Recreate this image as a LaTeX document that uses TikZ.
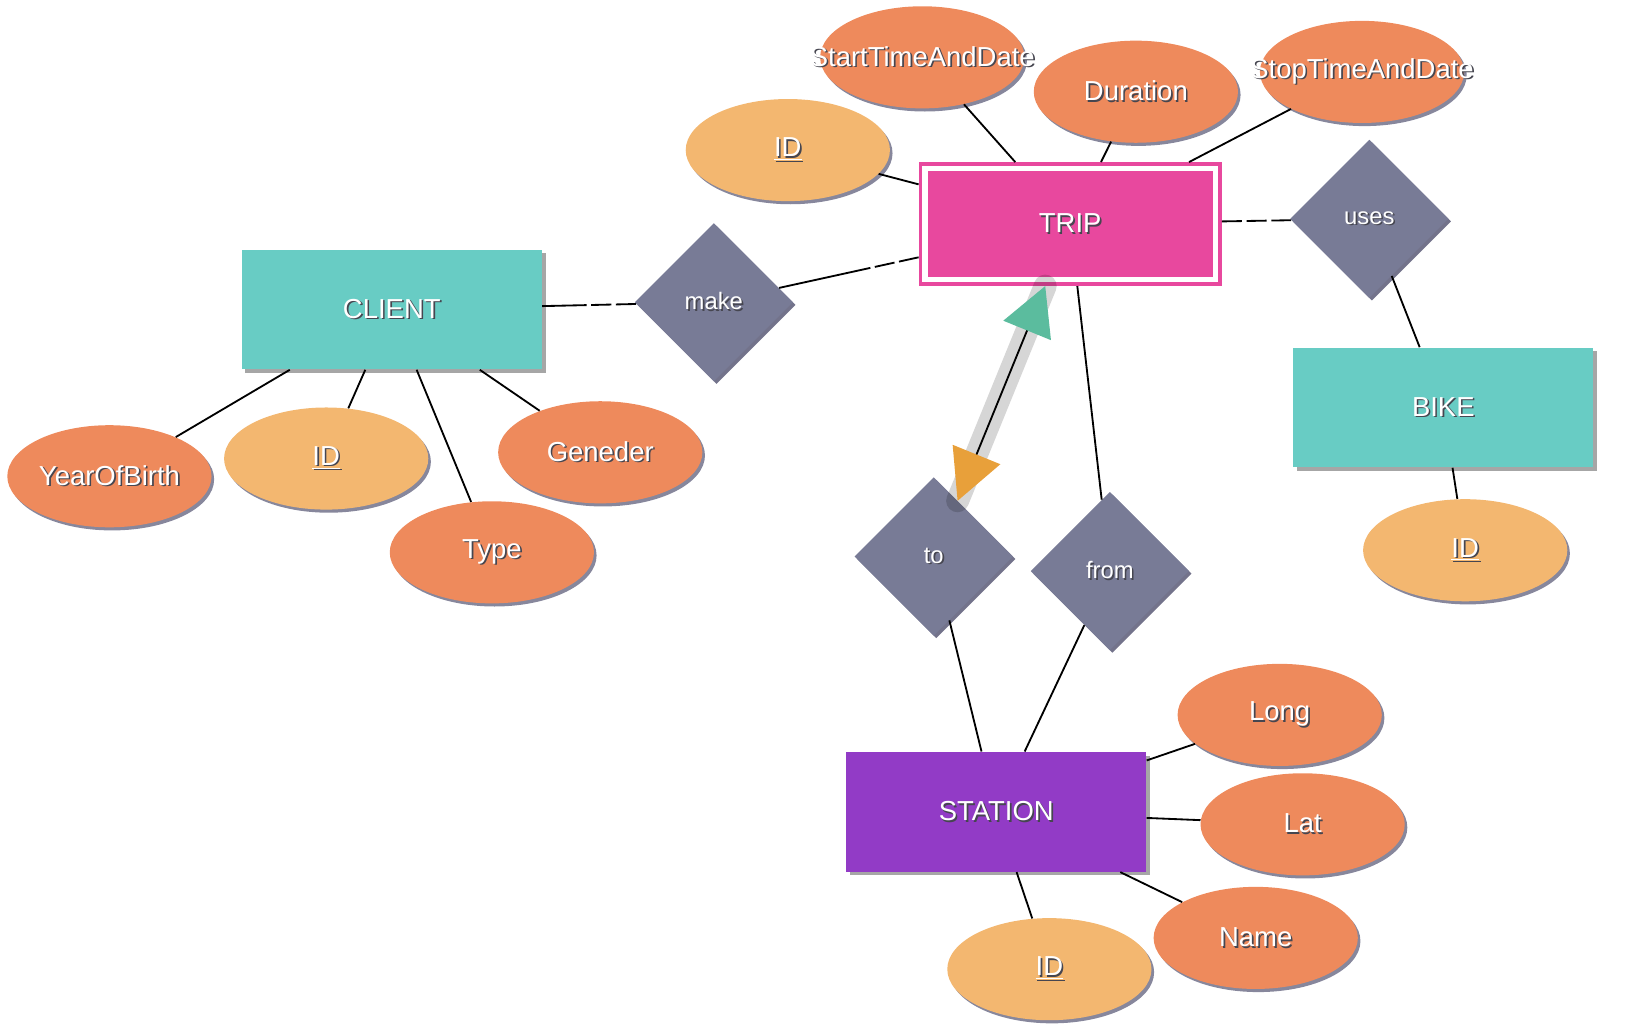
\documentclass[tikz,border=0pt]{standalone}
\usepackage{fontspec}
\setmainfont{Liberation Sans}
\usetikzlibrary{shapes.geometric,shadows,arrows.meta,calc}
\definecolor{entitycol}{RGB}{104,204,196}
\definecolor{tripcol}{RGB}{232,72,158}
\definecolor{stationcol}{RGB}{146,59,198}
\definecolor{relcol}{RGB}{120,123,150}
\definecolor{attrcol}{RGB}{238,138,92}
\definecolor{keycol}{RGB}{243,183,112}
\definecolor{shadecol}{RGB}{55,55,90}
\definecolor{txtshade}{RGB}{70,70,80}
\definecolor{tipa}{RGB}{232,160,58}
\definecolor{tipb}{RGB}{91,188,158}
\newcommand{\shtxt}[1]{\leavevmode\rlap{\kern0.9pt\raisebox{-0.9pt}{\color{txtshade}#1}}#1}
\begin{document}
\begin{tikzpicture}[x=0.02cm,y=-0.02cm,
every node/.style={text=white,font=\fontsize{15}{18}\selectfont},
boxshadow/.style={drop shadow={shadow xshift=0.07cm,shadow yshift=-0.07cm,fill=black,opacity=0.35}},
entity/.style={rectangle,fill=entitycol,minimum width=5.76cm,minimum height=2.3cm,boxshadow},
rel/.style={diamond,fill=relcol,minimum size=3.04cm,inner sep=0pt,font=\fontsize{13}{15}\selectfont,
  drop shadow={shadow xshift=0.05cm,shadow yshift=-0.05cm,fill=shadecol,opacity=0.7}},
attr/.style={ellipse,fill=attrcol,minimum width=3.92cm,minimum height=1.96cm,inner sep=0pt,
  drop shadow={shadow xshift=0.05cm,shadow yshift=-0.06cm,fill=shadecol,opacity=0.6}},
keyattr/.style={attr,fill=keycol},
link/.style={line width=1pt},
halfdash/.style={link,dash pattern=on 11pt off 2.5pt on 11pt off 2.5pt on 400pt off 0pt}]
\useasboundingbox (0,0) rectangle (1568,992);

\node[entity] (client) at (376,297) {\shtxt{CLIENT}};
\node[attr] (clientyob) at (105,457) {\shtxt{YearOfBirth}};
\node[keyattr] (clientid) at (313,440) {\shtxt{\underline{ID}}};
\node[attr] (clienttype) at (472,530) {\shtxt{Type}};
\node[attr] (clientgen) at (576,434) {\shtxt{Geneder}};

\node[rel] (make) at (685,290) {\shtxt{make}};

\node[rectangle,fill=tripcol,draw=tripcol,line width=0.07cm,double=white,double distance=0.1cm,
  minimum width=5.58cm,minimum height=2.14cm,outer sep=0.12cm,boxshadow] (trip) at (1027,215) {\shtxt{TRIP}};
\node[keyattr] (tripid) at (756,144) {\shtxt{\underline{ID}}};
\node[attr] (tripstart) at (885,55) {\makebox[0pt]{\shtxt{StartTimeAndDate}}};
\node[attr] (tripdur) at (1090,88) {\shtxt{Duration}};
\node[attr] (tripstop) at (1307,69) {\makebox[0pt]{\shtxt{StopTimeAndDate}}};

\node[rel] (uses) at (1314,210) {\shtxt{uses}};
\node[entity] (bike) at (1385,391) {\shtxt{BIKE}};
\node[keyattr] (bikeid) at (1406,528) {\shtxt{\underline{ID}}};

\node[rel] (relto) at (896,534) {\shtxt{to}};
\node[rel] (relfrom) at (1065,548) {\shtxt{from}};

\node[entity,fill=stationcol] (station) at (956,779) {\shtxt{STATION}};
\node[attr] (stlong) at (1228,686) {\shtxt{Long}};
\node[attr] (stlat) at (1250,791) {\shtxt{Lat}};
\node[attr] (stname) at (1205,900) {\shtxt{Name}};
\node[keyattr] (stid) at (1007,930) {\shtxt{\underline{ID}}};

\draw[link] (client)--(clientyob)
(client)--(clientid)
(client)--(clienttype)
(client)--(clientgen)
(trip)--(tripid)
(trip)--(tripstart)
(trip)--(tripdur)
(trip)--(tripstop)
(uses)--(bike)
(bike)--(bikeid)
(trip)--(relfrom)
(relto)--(station)
(relfrom)--(station)
(station)--(stlong)
(station)--(stlat)
(station)--(stname)
(station)--(stid);
\draw[halfdash] (make)--(client);
\draw[halfdash] (trip)--(make);
\draw[halfdash] (trip)--(uses);

\coordinate (toend) at ($(relto.north)!0.3!(relto.east)$);
\coordinate (tripend) at ($(trip.south)+(-24,0)$);
\draw[line width=0.44cm,line cap=round,black,opacity=0.16] (toend)--(tripend);
\draw[link,{Triangle[length=0.96cm,width=0.98cm,color=tipa]}-{Triangle[length=0.92cm,width=0.98cm,color=tipb]}] (toend)--(tripend);
\end{tikzpicture}
\end{document}
